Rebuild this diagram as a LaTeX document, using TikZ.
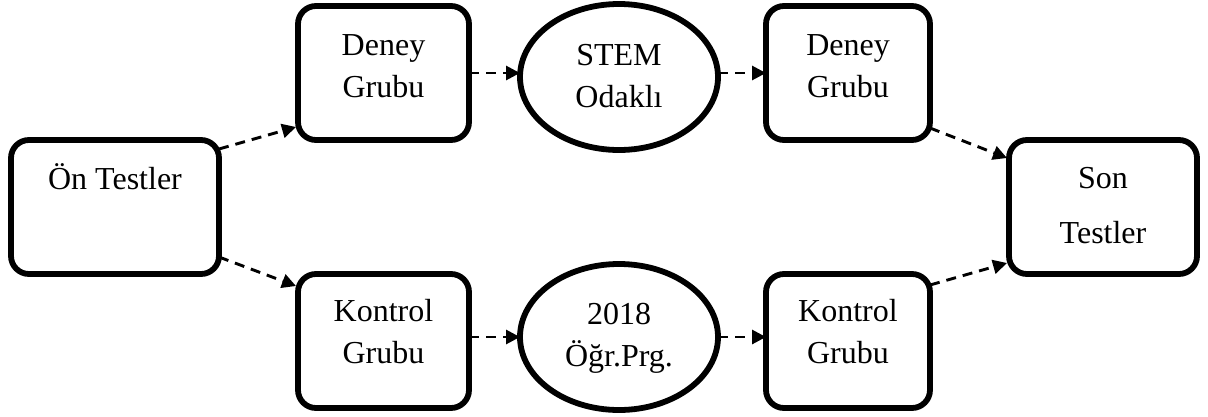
\documentclass[tikz,border=0pt]{standalone}
\usepackage{fontspec}
\setmainfont{Liberation Serif}
\usetikzlibrary{arrows.meta,shapes.geometric}
\begin{document}
\begin{tikzpicture}[x=1pt,y=-1pt,
  box/.style={draw, line width=5.8pt, rounded corners=18pt, inner sep=0pt, outer sep=0pt},
  oval/.style={draw, ellipse, line width=5.8pt, inner sep=0pt, outer sep=0pt,
               minimum width=198pt, minimum height=146pt},
  lbl/.style={anchor=base, inner sep=0pt, font=\fontsize{32}{38}\selectfont},
  flow/.style={line width=2.9pt, dash pattern=on 10pt off 7pt,
               -{Triangle[length=14pt,width=14pt]}},
]
\fill[white] (0,0) rectangle (1208,416);
\useasboundingbox (0,0) rectangle (1208,416);

% frames
\node[box, minimum width=208pt, minimum height=134pt] (on)  at (115,207)   {};
\node[box, minimum width=171pt, minimum height=134pt] (d1)  at (383.5,73)  {};
\node[box, minimum width=171pt, minimum height=134pt] (k1)  at (383.5,341) {};
\node[oval] (stem) at (619,77)  {};
\node[oval] (prg)  at (619,337) {};
\node[box, minimum width=164pt, minimum height=134pt] (d2)  at (848,73)    {};
\node[box, minimum width=164pt, minimum height=134pt] (k2)  at (848,341)   {};
\node[box, minimum width=188pt, minimum height=134pt] (son) at (1103,207)  {};

% texts
\node[lbl] (onT)   at (115,189)   {Ön Testler};
\node[lbl] (d1a)   at (383.5,55)  {Deney};
\node[lbl] (d1b)   at (383.5,97)  {Grubu};
\node[lbl] (k1a)   at (383.5,321) {Kontrol};
\node[lbl] (k1b)   at (383.5,363) {Grubu};
\node[lbl] (stemA) at (619,65)    {STEM};
\node[lbl] (stemB) at (619,107)   {Odaklı};
\node[lbl] (prgA)  at (619,324)   {2018};
\node[lbl] (prgB)  at (619,366)   {Öğr.Prg.};
\node[lbl] (d2a)   at (848,55)    {Deney};
\node[lbl] (d2b)   at (848,97)    {Grubu};
\node[lbl] (k2a)   at (848,321)   {Kontrol};
\node[lbl] (k2b)   at (848,363)   {Grubu};
\node[lbl] (sonA)  at (1103,188)  {Son};
\node[lbl] (sonB)  at (1103,243)  {Testler};

% connectors
\draw[flow] ([yshift=-9pt]on.north east)  -- ([xshift=-2pt,yshift=13pt]d1.south west);
\draw[flow] ([yshift=17pt]on.south east)  -- ([xshift=-2pt,yshift=-12pt]k1.north west);
\draw[flow] (d1.east) -- (d1.east -| stem.west);
\draw[flow] (stem.east |- d2.west) -- (d2.west);
\draw[flow] (k1.east |- prg.west) -- (prg.west);
\draw[flow] (prg.east) -- (prg.east -| k2.west);
\draw[flow] ([yshift=12pt]d2.south east)  -- ([xshift=-2pt,yshift=-18pt]son.north west);
\draw[flow] ([yshift=-11pt]k2.north east) -- ([xshift=-2pt,yshift=11pt]son.south west);
\end{tikzpicture}
\end{document}
